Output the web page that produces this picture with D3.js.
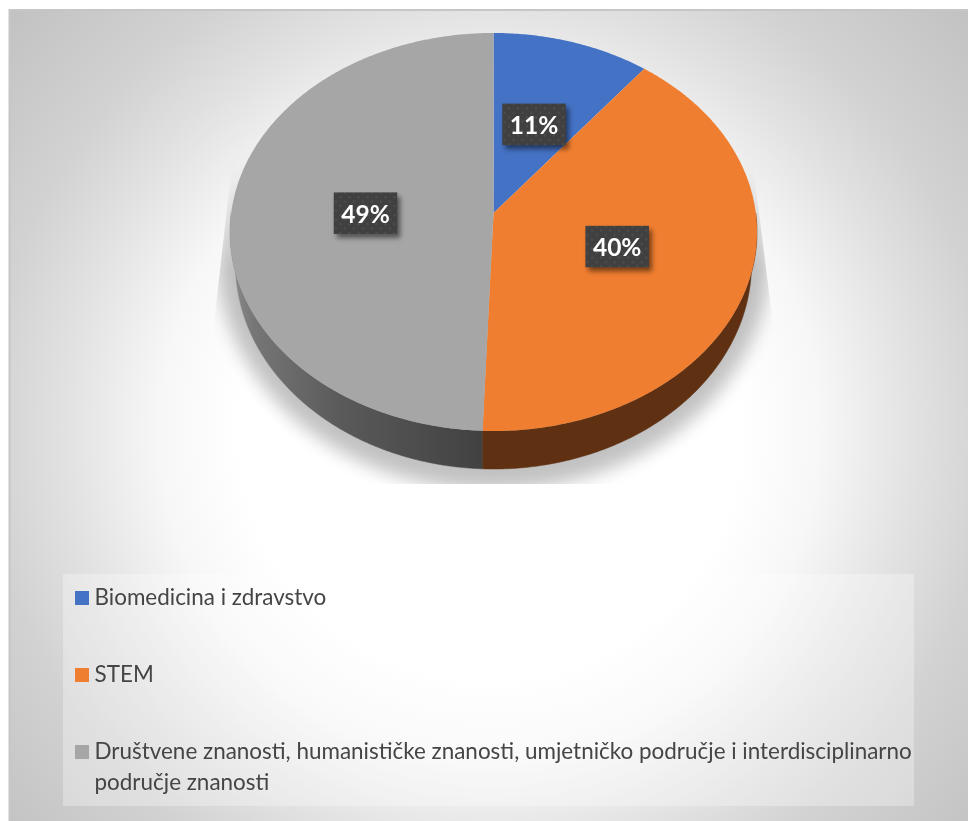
<!DOCTYPE html>
<html><head><meta charset="utf-8">
<script src="https://cdn.jsdelivr.net/npm/d3@7/dist/d3.min.js"></script>
<style>html,body{margin:0;padding:0;background:#fff;overflow:hidden}svg{display:block}</style>
</head><body><svg id="c" width="968" height="821"></svg>
<script>
const categories = ["Biomedicina i zdravstvo", "STEM", "Društvene znanosti, humanističke znanosti, umjetničko područje i interdisciplinarno|područje znanosti"];
const values = [10.6, 40.0, 49.4];
const colors = ["#4472c4", "#f07e30", "#a6a6a6"];
const sideColors = ["#284476", "#5f3112", "url(#sideGray)"];

const W = 968, H = 821;
const svg = d3.select("#c");
const defs = svg.append("defs");

const bg = defs.append("radialGradient").attr("id","bg").attr("gradientUnits","userSpaceOnUse")
  .attr("cx",490).attr("cy",430).attr("r",660);
[[0,"#ffffff"],[0.38,"#ffffff"],[0.5,"#f7f7f7"],[0.64,"#e2e2e2"],[0.76,"#d2d2d2"],[1,"#bfbfbf"]]
  .forEach(s=>bg.append("stop").attr("offset",s[0]).attr("stop-color",s[1]));
const sg = defs.append("linearGradient").attr("id","sideGray").attr("gradientUnits","userSpaceOnUse")
  .attr("x1",232).attr("x2",484).attr("y1",0).attr("y2",0);
[[0,"#8a8a8a"],[0.09,"#767676"],[0.43,"#5a5a5a"],[1,"#414141"]]
  .forEach(s=>sg.append("stop").attr("offset",s[0]).attr("stop-color",s[1]));
defs.append("filter").attr("id","pieShadow").attr("filterUnits","userSpaceOnUse")
  .attr("x",100).attr("y",0).attr("width",800).attr("height",600)
  .append("feGaussianBlur").attr("stdDeviation",9);
defs.append("filter").attr("id","lblShadow").attr("x","-30%").attr("y","-30%").attr("width","170%").attr("height","170%")
  .append("feGaussianBlur").attr("stdDeviation",2.6);
defs.append("filter").attr("id","soft").attr("x","-2%").attr("y","-10%").attr("width","104%").attr("height","120%")
  .append("feGaussianBlur").attr("stdDeviation",0.35);
const pat = defs.append("pattern").attr("id","dots").attr("patternUnits","userSpaceOnUse").attr("width",9).attr("height",9);
pat.append("rect").attr("width",9).attr("height",9).attr("fill","#404040");
pat.append("rect").attr("x",1).attr("y",1).attr("width",2).attr("height",2).attr("fill","#4f4f4f");
pat.append("rect").attr("x",5.5).attr("y",5.5).attr("width",2).attr("height",2).attr("fill","#4f4f4f");
defs.append("clipPath").attr("id","shadowClip").append("polygon")
  .attr("points","232,165 212,340 212,484 775,484 775,340 753,165");
const fade = defs.append("linearGradient").attr("id","fadeUp").attr("gradientUnits","userSpaceOnUse")
  .attr("x1",0).attr("x2",0).attr("y1",160).attr("y2",270);
fade.append("stop").attr("offset",0).attr("stop-color","#000");
fade.append("stop").attr("offset",1).attr("stop-color","#fff");
defs.append("mask").attr("id","shadowFade").attr("maskUnits","userSpaceOnUse")
  .attr("x",0).attr("y",0).attr("width",W).attr("height",H)
  .append("rect").attr("width",W).attr("height",H).attr("fill","url(#fadeUp)");

svg.append("rect").attr("width",W).attr("height",H).attr("fill","#fff");
svg.append("rect").attr("x",9).attr("y",9).attr("width",W-9).attr("height",H-9).attr("fill","url(#bg)");
svg.append("path").attr("d",`M9.5 ${H}V10H${W}`).attr("fill","none").attr("stroke","#c6c6c6").attr("stroke-width",2);

// perspective projection of the pie disc
const cx = 493.5, cy = 213, rxP = 262.3, ryP = 197.2, k = 0.0955;
const project = (angle, f=1) => {
  const u = Math.sin(angle)*f, v = -Math.cos(angle)*f, w = 1 - k*v;
  return [cx + rxP*u/w, cy + ryP*v/w];
};
// lower rim / shadow: the same disc rescaled about the top ellipse centre
const topCy = 232, topRy = 199, topRx = 263.5;
const rescale = (p, rx, ry, cyNew) => [cx + (p[0]-cx)*rx/topRx, cyNew + (p[1]-topCy)*ry/topRy];
const rim = p => rescale(p, 258, 205, 264);
const shade = p => rescale(p, 275, 230, 260);

const line = d3.line();
const arcPts = (a0,a1) => {
  const n = Math.max(2, Math.ceil((a1-a0)/0.01));
  return d3.range(n+1).map(i=>project(a0+(a1-a0)*i/n));
};
const slices = d3.pie().sort(null).value(d=>d)(values);

// drop shadow
svg.append("g").attr("mask","url(#shadowFade)").append("g").attr("clip-path","url(#shadowClip)")
  .append("path")
  .attr("d", line(arcPts(0,2*Math.PI).map(shade))+"Z")
  .attr("fill","#000").attr("opacity",0.24).attr("filter","url(#pieShadow)");

// side walls: only the front part of the disc has a visible wall
const frontStart = Math.PI/2, frontEnd = Math.PI*1.5;
const walls = slices.filter(d=>d.endAngle>frontStart && d.startAngle<frontEnd).reverse();
svg.append("g").selectAll("path").data(walls).join("path")
  .attr("d",d=>{
    const a=arcPts(Math.max(d.startAngle,frontStart),Math.min(d.endAngle,frontEnd));
    return line(a.concat(a.map(rim).reverse()))+"Z";
  })
  .attr("fill",d=>sideColors[d.index])
  .attr("stroke",d=>sideColors[d.index]).attr("stroke-width",0.5);

// top
svg.append("g").selectAll("path").data(slices).join("path")
  .attr("d",d=>line([project(0,0)].concat(arcPts(d.startAngle,d.endAngle)))+"Z")
  .attr("fill",(d,i)=>colors[i]);

// data labels
const lw = 63.5, lh = 41.5;
const labelNudge = [[0,0.5],[-1,-1],[3.5,2]];
const lbl = svg.append("g").selectAll("g").data(slices).join("g")
  .attr("transform",(d,i)=>{
    const p = project((d.startAngle+d.endAngle)/2,0.5);
    return `translate(${p[0]-0.5+labelNudge[i][0]},${p[1]+labelNudge[i][1]})`;
  });
lbl.append("rect").attr("x",-lw/2+3).attr("y",-lh/2+4).attr("width",lw).attr("height",lh)
  .attr("fill","#000").attr("opacity",0.5).attr("filter","url(#lblShadow)");
lbl.append("rect").attr("x",-lw/2).attr("y",-lh/2).attr("width",lw).attr("height",lh).attr("fill","url(#dots)");
lbl.append("text").attr("text-anchor","middle").attr("y",9.5)
  .attr("font-family","Lato").attr("font-weight",700).attr("font-size",24.5).attr("fill","#fff")
  .attr("filter","url(#soft)")
  .text(d=>Math.round(d.data)+"%");

// legend
svg.append("rect").attr("x",63).attr("y",574).attr("width",851).attr("height",232).attr("fill","#fff").attr("opacity",0.3);
const legY = d3.scalePoint().domain(categories).range([598,752]);
const leg = svg.append("g").selectAll("g").data(categories).join("g")
  .attr("transform",d=>`translate(0,${legY(d)})`);
leg.append("rect").attr("x",75).attr("y",-7).attr("width",14).attr("height",14).attr("fill",(d,i)=>colors[i]);
leg.each(function(d){
  d.split("|").forEach((t,j)=>d3.select(this).append("text")
    .attr("x",94.5).attr("y",7+j*30.5)
    .attr("font-family","Lato").attr("font-size",22.45).attr("fill","#454545")
    .attr("filter","url(#soft)").text(t));
});
</script></body></html>
